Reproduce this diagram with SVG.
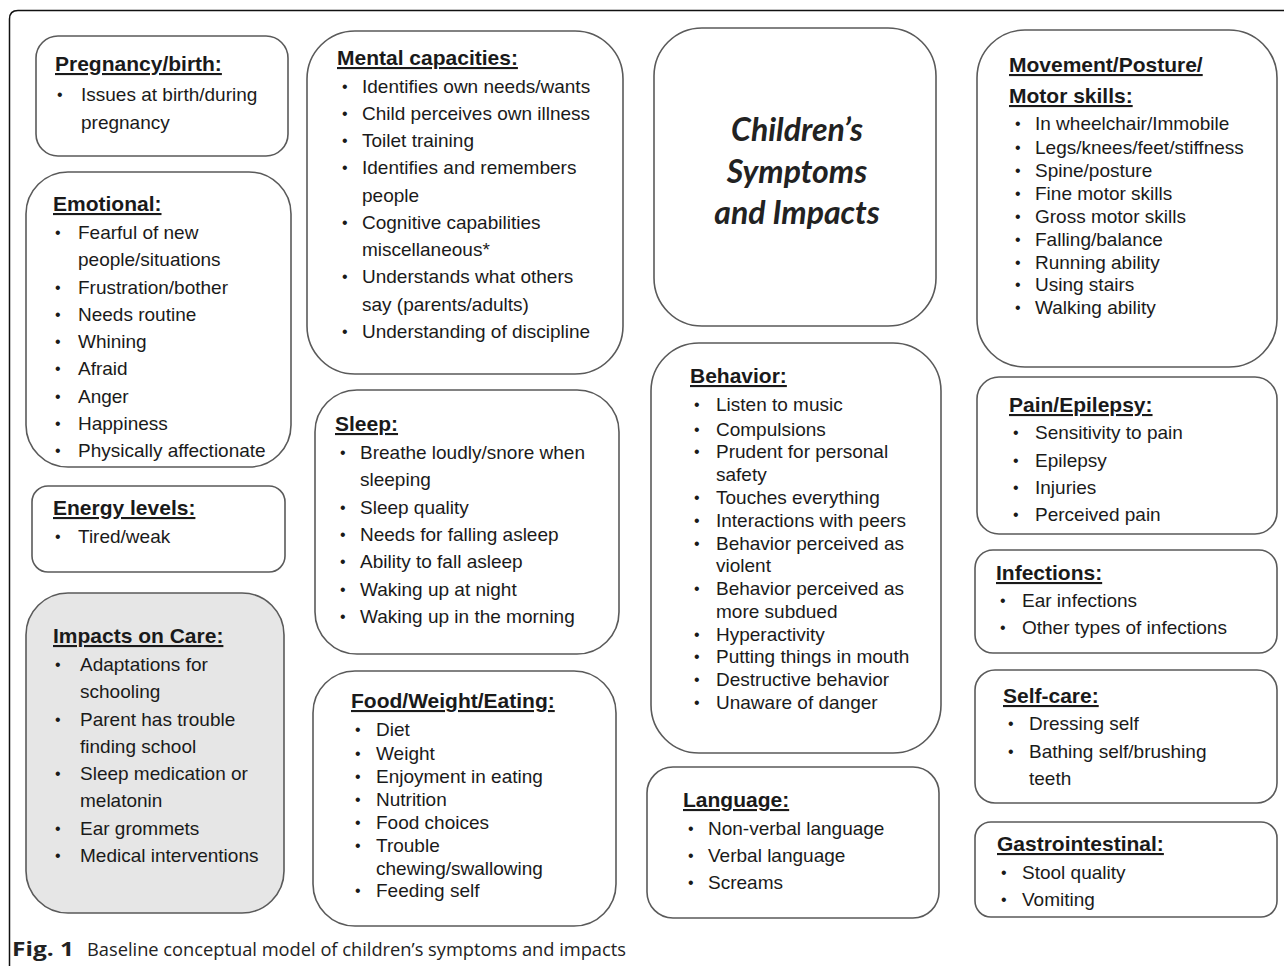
<svg xmlns="http://www.w3.org/2000/svg" width="1284" height="966" viewBox="0 0 1284 966">
<style>
.frame{fill:none;stroke:#111;stroke-width:1.5}
.box{fill:#fff;stroke:#5a5a5a;stroke-width:1.6}
.grey{fill:#e6e6e6}
.t{font-family:"Liberation Sans",Arial,sans-serif;font-size:21px;font-weight:bold;text-decoration:underline;fill:#1a1a1a}
.b{font-family:"Liberation Sans",Arial,sans-serif;font-size:19px;fill:#1a1a1a}
.b tspan.d{font-size:16px}
.c{font-family:Lato,"Open Sans",sans-serif;font-size:32px;font-weight:bold;font-style:italic;fill:#222;text-anchor:middle}
.cap{font-family:"Open Sans","Noto Sans",sans-serif;font-size:19px;fill:#222}
</style>
<path class="frame" d="M9.5,966 V19 Q9.5,10.5 18,10.5 H1284"/>
<g id="connectors"></g>

<g id="pregnancy">
<rect class="box" x="36" y="36" width="252" height="120" rx="22"/>
<text class="t" x="55" y="71">Pregnancy/birth:</text>
<text class="b"><tspan class="d" x="57" y="100">•</tspan><tspan x="81" y="101">Issues at birth/during</tspan><tspan x="81" y="129">pregnancy</tspan></text>
</g>

<g id="emotional">
<rect class="box" x="26" y="172" width="265" height="295" rx="42"/>
<text class="t" x="53" y="211">Emotional:</text>
<text class="b">
<tspan class="d" x="55" y="238">•</tspan><tspan x="78" y="239">Fearful of new</tspan>
<tspan x="78" y="266">people/situations</tspan>
<tspan class="d" x="55" y="293">•</tspan><tspan x="78" y="294">Frustration/bother</tspan>
<tspan class="d" x="55" y="320">•</tspan><tspan x="78" y="321">Needs routine</tspan>
<tspan class="d" x="55" y="347">•</tspan><tspan x="78" y="348">Whining</tspan>
<tspan class="d" x="55" y="374">•</tspan><tspan x="78" y="375">Afraid</tspan>
<tspan class="d" x="55" y="402">•</tspan><tspan x="78" y="403">Anger</tspan>
<tspan class="d" x="55" y="429">•</tspan><tspan x="78" y="430">Happiness</tspan>
<tspan class="d" x="55" y="456">•</tspan><tspan x="78" y="457">Physically affectionate</tspan>
</text>
</g>

<g id="energy">
<rect class="box" x="32" y="486" width="253" height="86" rx="16"/>
<text class="t" x="53" y="515">Energy levels:</text>
<text class="b"><tspan class="d" x="55" y="542">•</tspan><tspan x="78" y="543">Tired/weak</tspan></text>
</g>

<g id="impacts">
<rect class="box grey" x="26" y="593" width="258" height="320" rx="42"/>
<text class="t" x="53" y="643">Impacts  on Care:</text>
<text class="b">
<tspan class="d" x="55" y="670">•</tspan><tspan x="80" y="671">Adaptations for</tspan>
<tspan x="80" y="698">schooling</tspan>
<tspan class="d" x="55" y="725">•</tspan><tspan x="80" y="726">Parent has trouble</tspan>
<tspan x="80" y="753">finding school</tspan>
<tspan class="d" x="55" y="779">•</tspan><tspan x="80" y="780">Sleep medication or</tspan>
<tspan x="80" y="807">melatonin</tspan>
<tspan class="d" x="55" y="834">•</tspan><tspan x="80" y="835">Ear grommets</tspan>
<tspan class="d" x="55" y="861">•</tspan><tspan x="80" y="862">Medical interventions</tspan>
</text>
</g>

<g id="mental">
<rect class="box" x="307" y="31" width="316" height="343" rx="48"/>
<text class="t" x="337" y="65">Mental capacities:</text>
<text class="b">
<tspan class="d" x="342" y="92">•</tspan><tspan x="362" y="93">Identifies own needs/wants</tspan>
<tspan class="d" x="342" y="119">•</tspan><tspan x="362" y="120">Child perceives own illness</tspan>
<tspan class="d" x="342" y="146">•</tspan><tspan x="362" y="147">Toilet training</tspan>
<tspan class="d" x="342" y="173">•</tspan><tspan x="362" y="174">Identifies and remembers</tspan>
<tspan x="362" y="202">people</tspan>
<tspan class="d" x="342" y="228">•</tspan><tspan x="362" y="229">Cognitive capabilities</tspan>
<tspan x="362" y="256">miscellaneous*</tspan>
<tspan class="d" x="342" y="282">•</tspan><tspan x="362" y="283">Understands what others</tspan>
<tspan x="362" y="311">say (parents/adults)</tspan>
<tspan class="d" x="342" y="337">•</tspan><tspan x="362" y="338">Understanding of discipline</tspan>
</text>
</g>

<g id="sleep">
<rect class="box" x="315" y="390" width="304" height="264" rx="42"/>
<text class="t" x="335" y="431">Sleep:</text>
<text class="b">
<tspan class="d" x="340" y="458">•</tspan><tspan x="360" y="459">Breathe loudly/snore when</tspan>
<tspan x="360" y="486">sleeping</tspan>
<tspan class="d" x="340" y="513">•</tspan><tspan x="360" y="514">Sleep quality</tspan>
<tspan class="d" x="340" y="540">•</tspan><tspan x="360" y="541">Needs for falling asleep</tspan>
<tspan class="d" x="340" y="567">•</tspan><tspan x="360" y="568">Ability to fall asleep</tspan>
<tspan class="d" x="340" y="595">•</tspan><tspan x="360" y="596">Waking up at night</tspan>
<tspan class="d" x="340" y="622">•</tspan><tspan x="360" y="623">Waking up in the morning</tspan>
</text>
</g>

<g id="food">
<rect class="box" x="313" y="671" width="303" height="255" rx="42"/>
<text class="t" x="351" y="708">Food/Weight/Eating:</text>
<text class="b">
<tspan class="d" x="355" y="735">•</tspan><tspan x="376" y="736">Diet</tspan>
<tspan class="d" x="355" y="759">•</tspan><tspan x="376" y="760">Weight</tspan>
<tspan class="d" x="355" y="782">•</tspan><tspan x="376" y="783">Enjoyment in eating</tspan>
<tspan class="d" x="355" y="805">•</tspan><tspan x="376" y="806">Nutrition</tspan>
<tspan class="d" x="355" y="828">•</tspan><tspan x="376" y="829">Food choices</tspan>
<tspan class="d" x="355" y="851">•</tspan><tspan x="376" y="852">Trouble</tspan>
<tspan x="376" y="875">chewing/swallowing</tspan>
<tspan class="d" x="355" y="896">•</tspan><tspan x="376" y="897">Feeding self</tspan>
</text>
</g>

<g id="center">
<rect class="box" x="654" y="28" width="282" height="298" rx="48"/>
<text class="c" x="797" y="141">Children’s</text>
<text class="c" x="797" y="183">Symptoms</text>
<text class="c" x="797" y="224">and Impacts</text>
</g>

<g id="behavior">
<rect class="box" x="651" y="343" width="290" height="410" rx="48"/>
<text class="t" x="690" y="383">Behavior:</text>
<text class="b">
<tspan class="d" x="694" y="410">•</tspan><tspan x="716" y="411">Listen to music</tspan>
<tspan class="d" x="694" y="435">•</tspan><tspan x="716" y="436">Compulsions</tspan>
<tspan class="d" x="694" y="457">•</tspan><tspan x="716" y="458">Prudent for personal</tspan>
<tspan x="716" y="481">safety</tspan>
<tspan class="d" x="694" y="503">•</tspan><tspan x="716" y="504">Touches everything</tspan>
<tspan class="d" x="694" y="526">•</tspan><tspan x="716" y="527">Interactions with peers</tspan>
<tspan class="d" x="694" y="549">•</tspan><tspan x="716" y="550">Behavior perceived as</tspan>
<tspan x="716" y="572">violent</tspan>
<tspan class="d" x="694" y="594">•</tspan><tspan x="716" y="595">Behavior perceived as</tspan>
<tspan x="716" y="618">more subdued</tspan>
<tspan class="d" x="694" y="640">•</tspan><tspan x="716" y="641">Hyperactivity</tspan>
<tspan class="d" x="694" y="662">•</tspan><tspan x="716" y="663">Putting things in mouth</tspan>
<tspan class="d" x="694" y="685">•</tspan><tspan x="716" y="686">Destructive behavior</tspan>
<tspan class="d" x="694" y="708">•</tspan><tspan x="716" y="709">Unaware of danger</tspan>
</text>
</g>

<g id="language">
<rect class="box" x="647" y="767" width="292" height="151" rx="26"/>
<text class="t" x="683" y="807">Language:</text>
<text class="b">
<tspan class="d" x="688" y="834">•</tspan><tspan x="708" y="835">Non-verbal language</tspan>
<tspan class="d" x="688" y="861">•</tspan><tspan x="708" y="862">Verbal language</tspan>
<tspan class="d" x="688" y="888">•</tspan><tspan x="708" y="889">Screams</tspan>
</text>
</g>

<g id="movement">
<rect class="box" x="977" y="30" width="300" height="337" rx="48"/>
<text class="t" x="1009" y="72">Movement/Posture/</text>
<text class="t" x="1009" y="103">Motor skills:</text>
<text class="b">
<tspan class="d" x="1015" y="129">•</tspan><tspan x="1035" y="130">In wheelchair/Immobile</tspan>
<tspan class="d" x="1015" y="153">•</tspan><tspan x="1035" y="154">Legs/knees/feet/stiffness</tspan>
<tspan class="d" x="1015" y="176">•</tspan><tspan x="1035" y="177">Spine/posture</tspan>
<tspan class="d" x="1015" y="199">•</tspan><tspan x="1035" y="200">Fine motor skills</tspan>
<tspan class="d" x="1015" y="222">•</tspan><tspan x="1035" y="223">Gross motor skills</tspan>
<tspan class="d" x="1015" y="245">•</tspan><tspan x="1035" y="246">Falling/balance</tspan>
<tspan class="d" x="1015" y="268">•</tspan><tspan x="1035" y="269">Running ability</tspan>
<tspan class="d" x="1015" y="290">•</tspan><tspan x="1035" y="291">Using stairs</tspan>
<tspan class="d" x="1015" y="313">•</tspan><tspan x="1035" y="314">Walking ability</tspan>
</text>
</g>

<g id="pain">
<rect class="box" x="977" y="377" width="300" height="157" rx="22"/>
<text class="t" x="1009" y="412">Pain/Epilepsy:</text>
<text class="b">
<tspan class="d" x="1013" y="438">•</tspan><tspan x="1035" y="439">Sensitivity to pain</tspan>
<tspan class="d" x="1013" y="466">•</tspan><tspan x="1035" y="467">Epilepsy</tspan>
<tspan class="d" x="1013" y="493">•</tspan><tspan x="1035" y="494">Injuries</tspan>
<tspan class="d" x="1013" y="520">•</tspan><tspan x="1035" y="521">Perceived pain</tspan>
</text>
</g>

<g id="infections">
<rect class="box" x="975" y="550" width="302" height="103" rx="18"/>
<text class="t" x="996" y="580">Infections:</text>
<text class="b">
<tspan class="d" x="1000" y="606">•</tspan><tspan x="1022" y="607">Ear infections</tspan>
<tspan class="d" x="1000" y="633">•</tspan><tspan x="1022" y="634">Other types of infections</tspan>
</text>
</g>

<g id="selfcare">
<rect class="box" x="975" y="670" width="302" height="133" rx="20"/>
<text class="t" x="1003" y="703">Self-care:</text>
<text class="b">
<tspan class="d" x="1008" y="729">•</tspan><tspan x="1029" y="730">Dressing self</tspan>
<tspan class="d" x="1008" y="757">•</tspan><tspan x="1029" y="758">Bathing self/brushing</tspan>
<tspan x="1029" y="785">teeth</tspan>
</text>
</g>

<g id="gastro">
<rect class="box" x="975" y="822" width="302" height="95" rx="16"/>
<text class="t" x="997" y="851">Gastrointestinal:</text>
<text class="b">
<tspan class="d" x="1001" y="878">•</tspan><tspan x="1022" y="879">Stool quality</tspan>
<tspan class="d" x="1001" y="905">•</tspan><tspan x="1022" y="906">Vomiting</tspan>
</text>
</g>

<g id="caption">
<text class="cap" x="12" y="956" font-weight="bold" font-size="21" textLength="62" lengthAdjust="spacingAndGlyphs">Fig. 1</text>
<text class="cap" x="87" y="956" textLength="539" lengthAdjust="spacingAndGlyphs">Baseline conceptual model of children’s symptoms and impacts</text>
</g>
</svg>
